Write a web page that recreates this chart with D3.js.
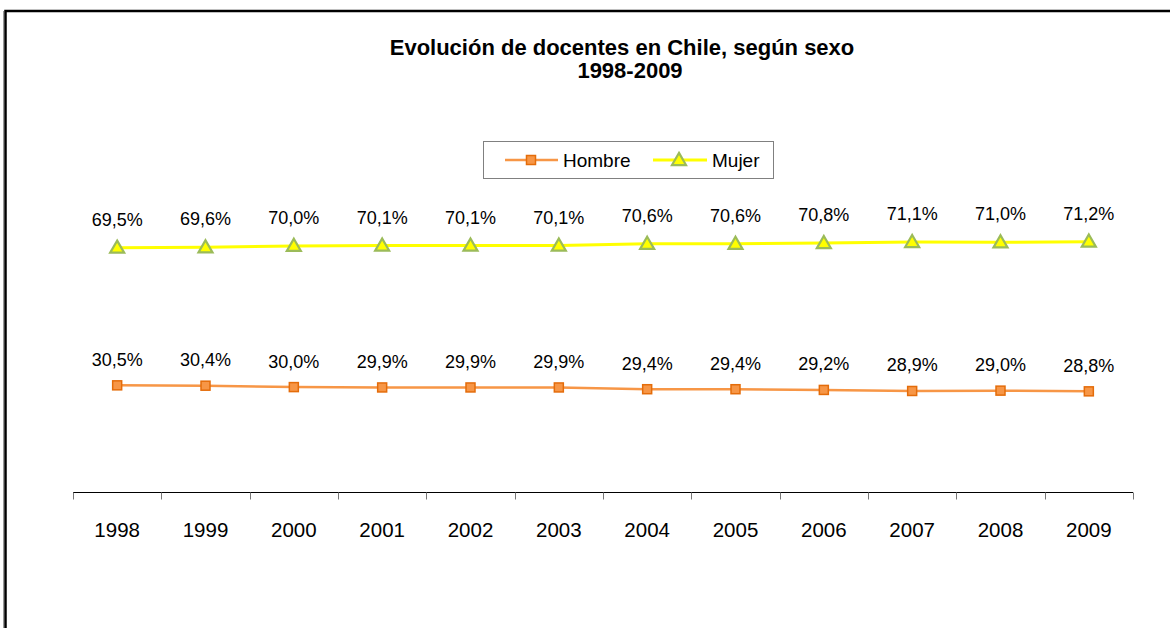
<!DOCTYPE html>
<html><head><meta charset="utf-8">
<script src="https://cdn.jsdelivr.net/npm/d3@7"></script>
<style>body{margin:0;background:#fff;}svg{display:block;font-family:Arial,"Liberation Sans",sans-serif;}</style>
</head><body>
<svg id="c" width="1170" height="628"></svg>
<script>
const years = ["1998","1999","2000","2001","2002","2003","2004","2005","2006","2007","2008","2009"];
const hombre = [30.5,30.4,30.0,29.9,29.9,29.9,29.4,29.4,29.2,28.9,29.0,28.8];
const mujer  = [69.5,69.6,70.0,70.1,70.1,70.1,70.6,70.6,70.8,71.1,71.0,71.2];
const seriesNames = ["Hombre","Mujer"];
const titleLines = ["Evolución de docentes en Chile, según sexo","1998-2009"];

const svg = d3.select("#c");
svg.append("rect").attr("x",0).attr("y",0).attr("width",1170).attr("height",628).attr("fill","#fff");
// outer chart border (extends beyond viewport)
svg.append("line").attr("x1",3.5).attr("x2",3.5).attr("y1",11).attr("y2",640).attr("stroke","#999").attr("stroke-width",1);
svg.append("rect").attr("x",5.5).attr("y",11).attr("width",1300).attr("height",800)
  .attr("fill","none").attr("stroke","#000").attr("stroke-width",2.5);

// title
svg.append("g").selectAll("text").data(titleLines).join("text")
  .attr("x",(d,i)=>i===0?622:630).attr("y",(d,i)=>55+i*23).attr("text-anchor","middle")
  .attr("font-weight","bold").attr("font-size","22px").attr("fill","#000").text(d=>d);

const x = d3.scaleBand().domain(years).range([73,1133]).paddingInner(0).paddingOuter(0);
const y = d3.scaleLinear().domain([0,100]).range([493,140]);
const cx = d => x(d)+x.bandwidth()/2;

// x axis
const axis = svg.append("g").attr("transform","translate(0,492.5)");
axis.append("line").attr("x1",73).attr("x2",1133).attr("stroke","#000").attr("stroke-width",1.2);
const tickPos = years.map(d=>x(d)).concat([1133]);
axis.selectAll("line.t").data(tickPos).join("line").attr("class","t")
  .attr("x1",d=>Math.round(d)+0.5).attr("x2",d=>Math.round(d)+0.5).attr("y1",0).attr("y2",7)
  .attr("stroke","#777").attr("stroke-width",1);
axis.selectAll("text").data(years).join("text")
  .attr("x",d=>cx(d)).attr("y",44).attr("text-anchor","middle")
  .attr("font-size","20.5px").attr("fill","#000").text(d=>d);

const fmt = v => d3.format(".1f")(v).replace(".",",")+"%";
const line = d3.line().x((d,i)=>cx(years[i])).y(d=>y(d));

// Mujer
svg.append("path").datum(mujer).attr("d",line).attr("fill","none").attr("stroke","#FFFF00").attr("stroke-width",3);
const tri = d3.symbol().type(d3.symbolTriangle).size(85);
svg.append("g").selectAll("path").data(mujer).join("path")
  .attr("d",tri).attr("transform",(d,i)=>`translate(${cx(years[i])},${y(d)+1})`)
  .attr("fill","#FFFF00").attr("stroke","#9BBB59").attr("stroke-width",2.2);
svg.append("g").selectAll("text").data(mujer).join("text")
  .attr("x",(d,i)=>cx(years[i])).attr("y",d=>y(d)-22).attr("text-anchor","middle")
  .attr("font-size","18px").attr("fill","#000").text(fmt);

// Hombre
svg.append("path").datum(hombre).attr("d",line).attr("fill","none").attr("stroke","#F79646").attr("stroke-width",2.5);
svg.append("g").selectAll("rect").data(hombre).join("rect")
  .attr("x",(d,i)=>cx(years[i])-4.5).attr("y",d=>y(d)-4.5).attr("width",9).attr("height",9)
  .attr("fill","#F79646").attr("stroke","#E46C0A").attr("stroke-width",1.5);
svg.append("g").selectAll("text").data(hombre).join("text")
  .attr("x",(d,i)=>cx(years[i])).attr("y",d=>y(d)-19.5).attr("text-anchor","middle")
  .attr("font-size","18px").attr("fill","#000").text(fmt);

// legend
const lg = svg.append("g");
lg.append("rect").attr("x",483.5).attr("y",141.5).attr("width",290).attr("height",37)
  .attr("fill","#fff").attr("stroke","#808080").attr("stroke-width",1);
lg.append("line").attr("x1",505).attr("x2",558).attr("y1",160).attr("y2",160).attr("stroke","#F79646").attr("stroke-width",2.5);
lg.append("rect").attr("x",531-4.5).attr("y",160-4.5).attr("width",9).attr("height",9).attr("fill","#F79646").attr("stroke","#E46C0A").attr("stroke-width",1.5);
lg.append("text").attr("x",563).attr("y",167).attr("font-size","19px").attr("fill","#000").text(seriesNames[0]);
lg.append("line").attr("x1",653).attr("x2",707).attr("y1",160).attr("y2",160).attr("stroke","#FFFF00").attr("stroke-width",3);
lg.append("path").attr("d",tri).attr("transform","translate(679,161)").attr("fill","#FFFF00").attr("stroke","#9BBB59").attr("stroke-width",2.2);
lg.append("text").attr("x",712).attr("y",167).attr("font-size","19px").attr("fill","#000").text(seriesNames[1]);
</script>
</body></html>
